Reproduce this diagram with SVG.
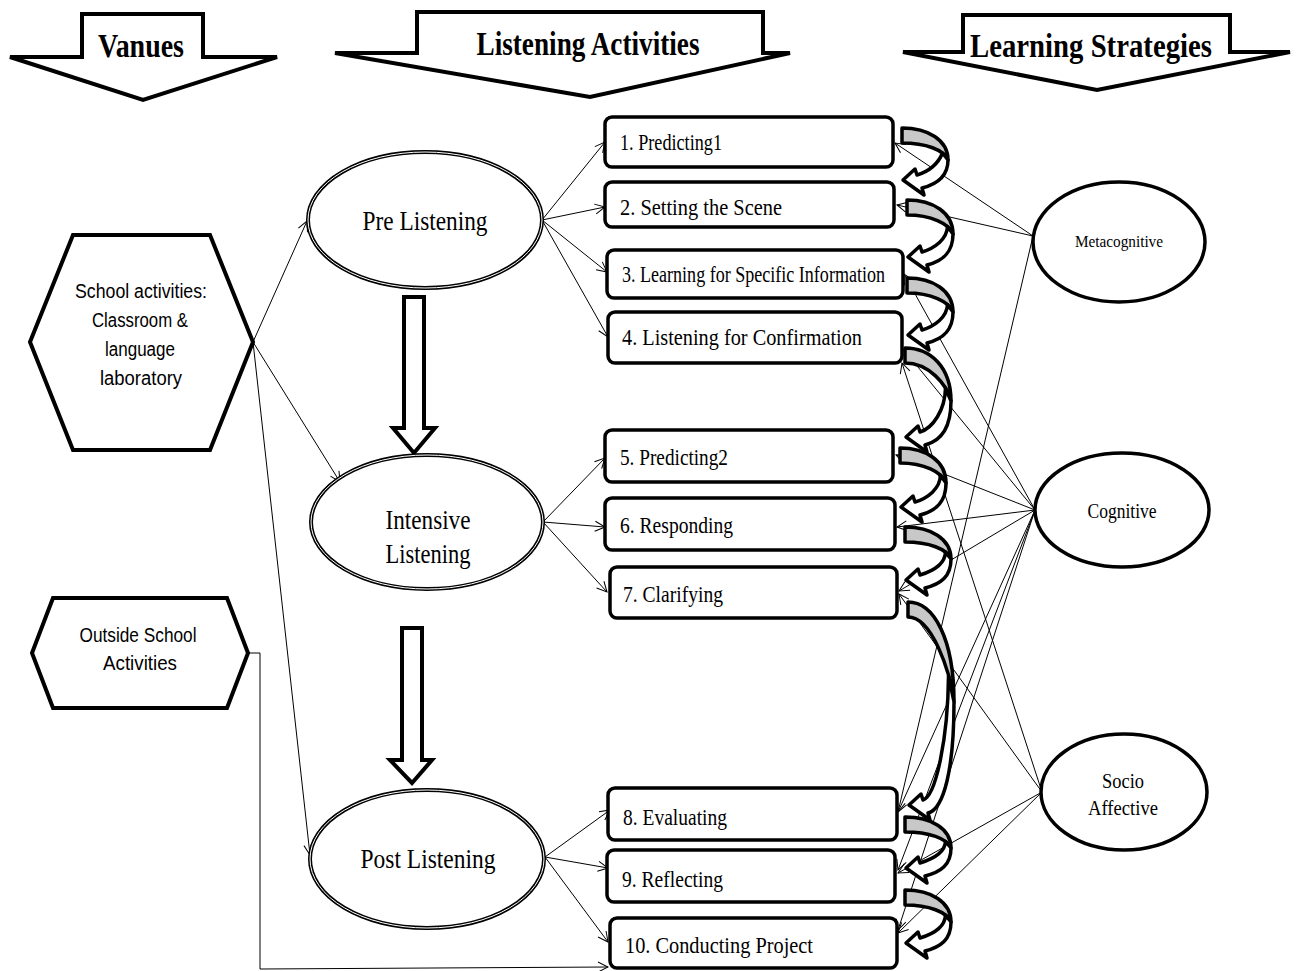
<svg xmlns="http://www.w3.org/2000/svg" width="1296" height="971" viewBox="0 0 1296 971">
<style>
.hdr{fill:#fff;stroke:#000;stroke-width:4;stroke-linejoin:miter}
.ht{font-family:"Liberation Serif",serif;font-weight:bold;font-size:33px;text-anchor:middle}
.box{fill:#fff;stroke:#000;stroke-width:3.5}
.bt{font-family:"Liberation Serif",serif;font-size:23px}
.ph1{fill:#fff;stroke:#000;stroke-width:4}
.ph2{fill:none;stroke:#fff;stroke-width:1}
.pt{font-family:"Liberation Serif",serif;font-size:28px;text-anchor:middle}
.hex{fill:#fff;stroke:#000;stroke-width:4}
.xt{font-family:"Liberation Sans",sans-serif;font-size:20px;text-anchor:middle}
.st{fill:#fff;stroke:#000;stroke-width:3.5}
.stt{font-family:"Liberation Serif",serif;text-anchor:middle}
.ln{fill:none;stroke:#000;stroke-width:1}
.blk{fill:#fff;stroke:#000;stroke-width:4}
.cg{fill:#c8c8c8;stroke:#000;stroke-width:3.5;stroke-linejoin:round}
.cw{fill:#fff;stroke:#000;stroke-width:3.5;stroke-linejoin:round}
</style>
<defs>
<marker id="ah" viewBox="0 0 12 12" refX="11" refY="6" markerWidth="12" markerHeight="12" markerUnits="userSpaceOnUse" orient="auto">
<path d="M1,1 L11,6 L1,11" fill="none" stroke="#000" stroke-width="1"/>
</marker>
</defs>

<g id="headers">
<g id="h-vanues"><polygon class="hdr" points="10,57 82,57 82,14 203,14 203,57 277,57 143,100"/><text class="ht" x="141" y="57" textLength="86" lengthAdjust="spacingAndGlyphs">Vanues</text></g>
<g id="h-listening"><polygon class="hdr" points="335,53 417,53 417,12 763,12 763,53 790,53 590,97"/><text class="ht" x="588" y="55" textLength="223" lengthAdjust="spacingAndGlyphs">Listening  Activities</text></g>
<g id="h-strategies"><polygon class="hdr" points="903,52 963,52 963,15 1230,15 1230,52 1290,52 1097,90"/><text class="ht" x="1091" y="57" textLength="242" lengthAdjust="spacingAndGlyphs">Learning Strategies</text></g>
</g>

<g id="connectors">
<line class="ln" x1="253" y1="342" x2="307" y2="221" marker-end="url(#ah)"/>
<line class="ln" x1="253" y1="342" x2="340" y2="482" marker-end="url(#ah)"/>
<line class="ln" x1="253" y1="342" x2="310" y2="855" marker-end="url(#ah)"/>
<polyline class="ln" points="248,653 260,653 260,969 608,967" marker-end="url(#ah)"/>
<line class="ln" x1="542" y1="220" x2="605" y2="142" marker-end="url(#ah)"/>
<line class="ln" x1="542" y1="220" x2="605" y2="207" marker-end="url(#ah)"/>
<line class="ln" x1="542" y1="220" x2="607" y2="272" marker-end="url(#ah)"/>
<line class="ln" x1="542" y1="220" x2="608" y2="337" marker-end="url(#ah)"/>
<line class="ln" x1="543" y1="522" x2="605" y2="458" marker-end="url(#ah)"/>
<line class="ln" x1="543" y1="522" x2="605" y2="527" marker-end="url(#ah)"/>
<line class="ln" x1="543" y1="522" x2="607" y2="592" marker-end="url(#ah)"/>
<line class="ln" x1="545" y1="857" x2="610" y2="810" marker-end="url(#ah)"/>
<line class="ln" x1="545" y1="857" x2="608" y2="868" marker-end="url(#ah)"/>
<line class="ln" x1="545" y1="857" x2="608" y2="942" marker-end="url(#ah)"/>
<line class="ln" x1="1033" y1="236" x2="895" y2="143" marker-end="url(#ah)"/>
<line class="ln" x1="1033" y1="236" x2="897" y2="205" marker-end="url(#ah)"/>
<line class="ln" x1="1033" y1="236" x2="898" y2="812" marker-end="url(#ah)"/>
<line class="ln" x1="1035" y1="510" x2="904" y2="274" marker-end="url(#ah)"/>
<line class="ln" x1="1035" y1="510" x2="904" y2="350" marker-end="url(#ah)"/>
<line class="ln" x1="1035" y1="510" x2="896" y2="455" marker-end="url(#ah)"/>
<line class="ln" x1="1035" y1="510" x2="897" y2="527" marker-end="url(#ah)"/>
<line class="ln" x1="1035" y1="510" x2="899" y2="591" marker-end="url(#ah)"/>
<line class="ln" x1="1035" y1="510" x2="898" y2="812" marker-end="url(#ah)"/>
<line class="ln" x1="1035" y1="510" x2="898" y2="870" marker-end="url(#ah)"/>
<line class="ln" x1="1035" y1="510" x2="898" y2="930" marker-end="url(#ah)"/>
<line class="ln" x1="1042" y1="792" x2="902" y2="363" marker-end="url(#ah)"/>
<line class="ln" x1="1042" y1="792" x2="899" y2="594" marker-end="url(#ah)"/>
<line class="ln" x1="1042" y1="792" x2="898" y2="873" marker-end="url(#ah)"/>
<line class="ln" x1="1042" y1="792" x2="898" y2="933" marker-end="url(#ah)"/>
</g>

<g id="flow-arrows">
<path class="blk" d="M404,297 L424,297 L424,428 L435,428 L414,453 L393,428 L404,428 Z"/>
<path class="blk" d="M402,628 L422,628 L422,760 L432,760 L412,783 L390,760 L402,760 Z"/>
</g>

<g id="curved-arrows">
<g id="c12"><path class="cg" d="M902,128 C928,128 948,140 948,160 C944,150 926,143 902,143 Z"/><path class="cw" d="M948,160 C948,176 938,184 922,188 L924,195 L903,180 L915,169 L917,175 C930,171 938,164 942.5,153 Z"/></g>
<g id="c23"><path class="cg" d="M907,200 C933,200 953,212.6 953,234 C949,223.5 931,215 907,215 Z"/><path class="cw" d="M953,234 C953,252.6 943,261 927,265 L929,272 L908,257 L920,246 L922,252 C935,248 947,239 947.5,226.5 Z"/></g>
<g id="c34"><path class="cg" d="M907,278 C933,278 953,290.6 953,312 C949,301.5 931,293 907,293 Z"/><path class="cw" d="M953,312 C953,330.6 943,339 927,343 L929,350 L908,335 L920,324 L922,330 C935,326 947,317 947.5,304.5 Z"/></g>
<g id="c45"><path class="cg" d="M905,348 C931,348 951,367.6 951,401 C947,384.6 929,363 905,363 Z"/><path class="cw" d="M951,401 C951,427.4 941,441 925,445 L927,452 L906,437 L918,426 L920,432 C933,428 945,410 945.5,388.1 Z"/></g>
<g id="c56"><path class="cg" d="M900,448 C926,448 946,461 946,483 C942,472 924,463 900,463 Z"/><path class="cw" d="M946,483 C946,502.2 936,511 920,515 L922,522 L901,507 L913,496 L915,502 C928,498 940,488.6 940.5,475.3 Z"/></g>
<g id="c67"><path class="cg" d="M905,527 C931,527 951,538.8 951,559 C947,549 929,542 905,542 Z"/><path class="cw" d="M951,559 C951,576.4 941,584 925,588 L927,595 L906,580 L918,569 L920,575 C933,571 945,563.5 945.5,552.1 Z"/></g>
<g id="c78"><path class="cg" d="M908,602 C934,602 954,639 954,702 C950,671 932,617 908,617 Z"/><path class="cw" d="M954,702 C954,768.6 944,809 928,813 L930,820 L909,805 L921,794 L923,800 C936,796 948,737.8 948.5,675.6 Z"/></g>
<g id="c89"><path class="cg" d="M905,817 C931,817 951,828.5 951,848 C947,838.4 929,832 905,832 Z"/><path class="cw" d="M951,848 C951,864.8 941,872 925,876 L927,883 L906,868 L918,857 L920,863 C933,859 945,852.2 945.5,841.4 Z"/></g>
<g id="c910"><path class="cg" d="M905,890 C931,890 951,901.8 951,922 C947,912 929,905 905,905 Z"/><path class="cw" d="M951,922 C951,939.4 941,947 925,951 L927,958 L906,943 L918,932 L920,938 C933,934 945,926.5 945.5,915.1 Z"/></g>
</g>

<g id="venues">
<g id="school"><polygon class="hex" points="73,235 210,235 253,342 210,450 73,450 30,342"/>
<text class="xt" x="141" y="298" textLength="132" lengthAdjust="spacingAndGlyphs">School activities:</text>
<text class="xt" x="140" y="327" textLength="96" lengthAdjust="spacingAndGlyphs">Classroom &amp;</text>
<text class="xt" x="140" y="356" textLength="70" lengthAdjust="spacingAndGlyphs">language</text>
<text class="xt" x="141" y="385" textLength="82" lengthAdjust="spacingAndGlyphs">laboratory</text></g>
<g id="outside"><polygon class="hex" points="53,598 227,598 248,653 227,708 53,708 32,653"/>
<text class="xt" x="138" y="642" textLength="117" lengthAdjust="spacingAndGlyphs">Outside School</text>
<text class="xt" x="140" y="670" textLength="74" lengthAdjust="spacingAndGlyphs">Activities</text></g>
</g>

<g id="phases">
<g id="pre"><ellipse class="ph1" cx="425" cy="220" rx="117" ry="68"/><ellipse class="ph2" cx="425" cy="220" rx="117" ry="68"/><text class="pt" x="425" y="230" textLength="125" lengthAdjust="spacingAndGlyphs">Pre Listening</text></g>
<g id="intensive"><ellipse class="ph1" cx="427" cy="522" rx="116" ry="67"/><ellipse class="ph2" cx="427" cy="522" rx="116" ry="67"/><text class="pt" x="428" y="529" textLength="85" lengthAdjust="spacingAndGlyphs">Intensive</text><text class="pt" x="428" y="563" textLength="85" lengthAdjust="spacingAndGlyphs">Listening</text></g>
<g id="post"><ellipse class="ph1" cx="427" cy="859" rx="117" ry="69"/><ellipse class="ph2" cx="427" cy="859" rx="117" ry="69"/><text class="pt" x="428" y="868" textLength="135" lengthAdjust="spacingAndGlyphs">Post Listening</text></g>
</g>

<g id="activities">
<g id="a1"><rect class="box" x="605" y="117" width="288" height="50" rx="7"/><text class="bt" x="620" y="150" textLength="102" lengthAdjust="spacingAndGlyphs">1. Predicting1</text></g>
<g id="a2"><rect class="box" x="605" y="182" width="289" height="45" rx="7"/><text class="bt" x="620" y="215" textLength="162" lengthAdjust="spacingAndGlyphs">2. Setting  the  Scene</text></g>
<g id="a3"><rect class="box" x="607" y="250" width="296" height="48" rx="7"/><text class="bt" x="622" y="282" textLength="263" lengthAdjust="spacingAndGlyphs">3. Learning for Specific Information</text></g>
<g id="a4"><rect class="box" x="608" y="312" width="294" height="51" rx="7"/><text class="bt" x="622" y="345" textLength="240" lengthAdjust="spacingAndGlyphs">4. Listening  for  Confirmation</text></g>
<g id="a5"><rect class="box" x="605" y="430" width="288" height="52" rx="7"/><text class="bt" x="620" y="465" textLength="108" lengthAdjust="spacingAndGlyphs">5. Predicting2</text></g>
<g id="a6"><rect class="box" x="605" y="498" width="290" height="52" rx="7"/><text class="bt" x="620" y="533" textLength="113" lengthAdjust="spacingAndGlyphs">6. Responding</text></g>
<g id="a7"><rect class="box" x="610" y="567" width="287" height="51" rx="7"/><text class="bt" x="623" y="602" textLength="100" lengthAdjust="spacingAndGlyphs">7. Clarifying</text></g>
<g id="a8"><rect class="box" x="608" y="788" width="289" height="52" rx="7"/><text class="bt" x="623" y="825" textLength="104" lengthAdjust="spacingAndGlyphs">8. Evaluating</text></g>
<g id="a9"><rect class="box" x="607" y="850" width="288" height="52" rx="7"/><text class="bt" x="622" y="887" textLength="101" lengthAdjust="spacingAndGlyphs">9. Reflecting</text></g>
<g id="a10"><rect class="box" x="610" y="918" width="287" height="50" rx="7"/><text class="bt" x="625" y="953" textLength="188" lengthAdjust="spacingAndGlyphs">10. Conducting  Project</text></g>
</g>

<g id="strategies">
<g id="meta"><ellipse class="st" cx="1119" cy="242" rx="86" ry="60"/><text class="stt" x="1119" y="247" font-size="16" textLength="88" lengthAdjust="spacingAndGlyphs">Metacognitive</text></g>
<g id="cog"><ellipse class="st" cx="1122" cy="510" rx="87" ry="57"/><text class="stt" x="1122" y="518" font-size="20" textLength="69" lengthAdjust="spacingAndGlyphs">Cognitive</text></g>
<g id="socio"><ellipse class="st" cx="1124" cy="792" rx="83" ry="58"/><text class="stt" x="1123" y="788" font-size="20" textLength="42" lengthAdjust="spacingAndGlyphs">Socio</text><text class="stt" x="1123" y="815" font-size="20" textLength="70" lengthAdjust="spacingAndGlyphs">Affective</text></g>
</g>
</svg>
